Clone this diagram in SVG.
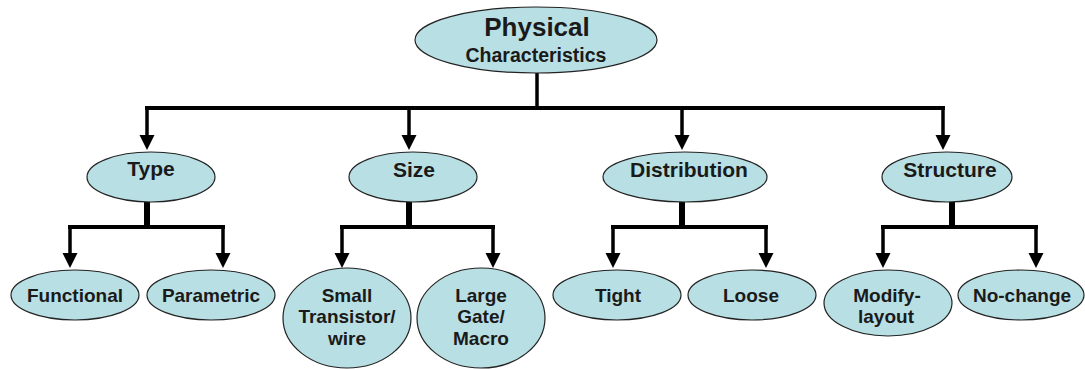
<svg xmlns="http://www.w3.org/2000/svg" width="1085" height="369" viewBox="0 0 1085 369">
<style>
.n{fill:#b8dfe3;stroke:#222;stroke-width:1.2}
.t{font-family:"Liberation Sans",Arial,sans-serif;font-weight:bold;fill:#1a1a1a;text-anchor:middle}
.l2{font-size:21px}
.l3{font-size:19px}
.c{fill:none;stroke:#000;stroke-width:3.5}
.bus{fill:none;stroke:#000;stroke-width:4;stroke-linecap:square}
.stem{fill:none;stroke:#000;stroke-width:6}
</style>
<defs>
<marker id="ah" markerUnits="userSpaceOnUse" markerWidth="16" markerHeight="16" viewBox="0 -8 15 16" refX="0" refY="0" orient="auto">
<path d="M0,-7.5 L15,0 L0,7.5 z" fill="#000"/>
</marker>
</defs>
<rect width="1085" height="369" fill="#fff"/>
<g id="connectors">
<path class="c" d="M537 73 V108"/>
<path class="bus" d="M147 108 H943"/>
<path class="c" d="M147 108 V135" marker-end="url(#ah)"/>
<path class="c" d="M409 108 V135" marker-end="url(#ah)"/>
<path class="c" d="M682 108 V135" marker-end="url(#ah)"/>
<path class="c" d="M943 108 V135" marker-end="url(#ah)"/>
<path class="stem" d="M147 202 V227"/>
<path class="bus" d="M70 227 H223"/>
<path class="c" d="M70 227 V253" marker-end="url(#ah)"/>
<path class="c" d="M223 227 V253" marker-end="url(#ah)"/>
<path class="stem" d="M409 202 V227"/>
<path class="bus" d="M342 227 H493"/>
<path class="c" d="M342 227 V253" marker-end="url(#ah)"/>
<path class="c" d="M493 227 V253" marker-end="url(#ah)"/>
<path class="stem" d="M682 202 V227"/>
<path class="bus" d="M613 227 H766"/>
<path class="c" d="M613 227 V253" marker-end="url(#ah)"/>
<path class="c" d="M766 227 V253" marker-end="url(#ah)"/>
<path class="stem" d="M952 202 V227"/>
<path class="bus" d="M883 227 H1036"/>
<path class="c" d="M883 227 V253" marker-end="url(#ah)"/>
<path class="c" d="M1036 227 V253" marker-end="url(#ah)"/>
</g>
<g id="physical">
<ellipse class="n" cx="536" cy="40" rx="121" ry="33"/>
<text class="t" x="537" y="36" font-size="26">Physical</text>
<text class="t" x="536" y="62" font-size="19.5">Characteristics</text>
</g>
<g id="type">
<ellipse class="n" cx="151" cy="177" rx="64" ry="25"/>
<text class="t l2" x="151" y="176">Type</text>
</g>
<g id="size">
<ellipse class="n" cx="413" cy="177" rx="64" ry="25"/>
<text class="t l2" x="414" y="177">Size</text>
</g>
<g id="distribution">
<ellipse class="n" cx="685" cy="177" rx="82" ry="25"/>
<text class="t l2" x="689" y="177">Distribution</text>
</g>
<g id="structure">
<ellipse class="n" cx="947" cy="177" rx="65" ry="25"/>
<text class="t l2" x="950" y="177">Structure</text>
</g>
<g id="functional">
<ellipse class="n" cx="75" cy="295" rx="64" ry="25"/>
<text class="t l3" x="75" y="302">Functional</text>
</g>
<g id="parametric">
<ellipse class="n" cx="211" cy="295" rx="64" ry="25"/>
<text class="t l3" x="211" y="302">Parametric</text>
</g>
<g id="small">
<ellipse class="n" cx="347" cy="318" rx="64" ry="50"/>
<text class="t l3" x="347" y="302">Small</text>
<text class="t l3" x="347" y="323">Transistor/</text>
<text class="t l3" x="347" y="345">wire</text>
</g>
<g id="large">
<ellipse class="n" cx="481" cy="318" rx="64" ry="50"/>
<text class="t l3" x="481" y="302">Large</text>
<text class="t l3" x="481" y="323">Gate/</text>
<text class="t l3" x="481" y="345">Macro</text>
</g>
<g id="tight">
<ellipse class="n" cx="617" cy="295" rx="64" ry="25"/>
<text class="t l3" x="618" y="302">Tight</text>
</g>
<g id="loose">
<ellipse class="n" cx="752" cy="295" rx="64" ry="25"/>
<text class="t l3" x="751" y="302">Loose</text>
</g>
<g id="modify">
<ellipse class="n" cx="888" cy="303" rx="64" ry="33"/>
<text class="t l3" x="887" y="302">Modify-</text>
<text class="t l3" x="886" y="323">layout</text>
</g>
<g id="nochange">
<ellipse class="n" cx="1021" cy="295" rx="63" ry="25"/>
<text class="t l3" x="1022" y="302">No-change</text>
</g>
</svg>
